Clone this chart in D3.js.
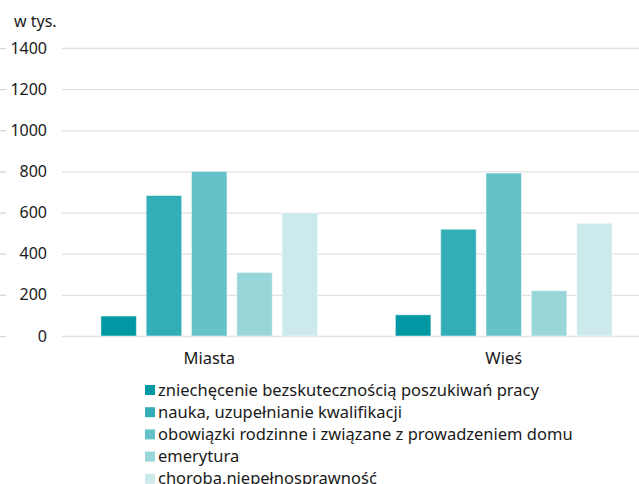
<!DOCTYPE html>
<html>
<head>
<meta charset="utf-8">
<script src="https://cdn.jsdelivr.net/npm/d3@7"></script>
<style>
  body { margin: 0; background: #fff; }
  svg { display: block; font-family: "Noto Sans", sans-serif; }
</style>
</head>
<body>
<div id="chart"></div>
<script>
const categories = ['Miasta', 'Wieś']
const series = [
  'zniechęcenie bezskutecznością poszukiwań pracy',
  'nauka, uzupełnianie kwalifikacji',
  'obowiązki rodzinne i związane z prowadzeniem domu',
  'emerytura',
  'choroba,niepełnosprawność'
]
const miasta = [97, 683, 800, 309, 598]
const wies = [103, 519, 792, 220, 548]
const yTicks = [0, 200, 400, 600, 800, 1000, 1200, 1400]
const colors = ['#0099a3', '#33adb6', '#66c2c9', '#99d6da', '#cceaec']

const W = 639, H = 484
const m = {left: 62, right: 651, top: 48, bottom: 336}
const ink = '#1a1a1a'

const svg = d3.select('#chart')
  .append('svg')
  .attr('width', W)
  .attr('height', H)

const data = categories.map((c, i) => ({
  cat: c,
  values: series.map((s, j) => ({ key: s, idx: j, value: [miasta, wies][i][j] }))
}))

// Scales
const x0 = d3.scaleBand()
  .domain(categories)
  .range([m.left, m.right])
  .paddingInner(0.264)
  .paddingOuter(0.132)

const x1 = d3.scaleBand()
  .domain(series)
  .range([0, x0.bandwidth()])
  .paddingInner(0.216)

const y = d3.scaleLinear()
  .domain([0, 1400])
  .range([m.bottom, m.top])

// grid
svg.append('g')
  .selectAll('line')
  .data(yTicks).enter()
  .append('line')
    .attr('x1', m.left)
    .attr('x2', W)
    .attr('y1', d => y(d) + 0.5)
    .attr('y2', d => y(d) + 0.5)
    .attr('stroke', '#e2e2e2')
    .attr('stroke-width', 1.3)

// small dashes at the left edge
svg.append('g')
  .selectAll('line')
  .data(yTicks).enter()
  .append('line')
    .attr('x1', 0)
    .attr('x2', 6)
    .attr('y1', d => y(d) + 0.5)
    .attr('y2', d => y(d) + 0.5)
    .attr('stroke', '#d6d6d6')
    .attr('stroke-width', 1.3)

// y axis labels
const yAxis = d3.axisLeft(y).tickValues(yTicks).tickFormat(d3.format('d')).tickSize(0).tickPadding(0)
const ya = svg.append('g')
  .attr('transform', 'translate(47, 0)')
  .call(yAxis)
ya.select('.domain').remove()
ya.selectAll('text')
  .attr('font-size', 16)
  .attr('font-family', '"Noto Sans", sans-serif')
  .attr('fill', ink)

svg.append('text')
  .attr('x', 14)
  .attr('y', 27)
  .attr('font-size', 16)
  .attr('fill', ink)
  .text('w tys.')

// x axis labels
const xAxis = d3.axisBottom(x0).tickSize(0).tickPadding(0)
const xa = svg.append('g')
  .attr('transform', `translate(0, ${m.bottom + 16})`)
  .call(xAxis)
xa.select('.domain').remove()
xa.selectAll('text')
  .attr('font-size', 16.5)
  .attr('font-family', '"Noto Sans", sans-serif')
  .attr('fill', ink)

// bars
const groups = svg.selectAll('.grp')
  .data(data).enter()
  .append('g')
    .attr('class', 'grp')
    .attr('transform', d => `translate(${x0(d.cat)}, 0)`)

groups.selectAll('rect')
  .data(d => d.values).enter()
  .append('rect')
    .attr('x', d => x1(d.key))
    .attr('y', d => y(d.value))
    .attr('width', x1.bandwidth())
    .attr('height', d => m.bottom - y(d.value))
    .attr('fill', d => colors[d.idx])
    .attr('stroke', '#fff')
    .attr('stroke-opacity', 0.5)
    .attr('stroke-width', 1)

// legend
const legend = svg.append('g')
  .attr('transform', 'translate(145, 385)')

const item = legend.selectAll('g')
  .data(series).enter()
  .append('g')
    .attr('transform', (d, i) => `translate(0, ${i * 22.2})`)

item.append('rect')
  .attr('width', 10)
  .attr('height', 10)
  .attr('fill', (d, i) => colors[i])

item.append('text')
  .attr('x', 13)
  .attr('y', 10.5)
  .attr('font-size', 16.5)
  .attr('fill', ink)
  .text(d => d)
</script>
</body>
</html>
